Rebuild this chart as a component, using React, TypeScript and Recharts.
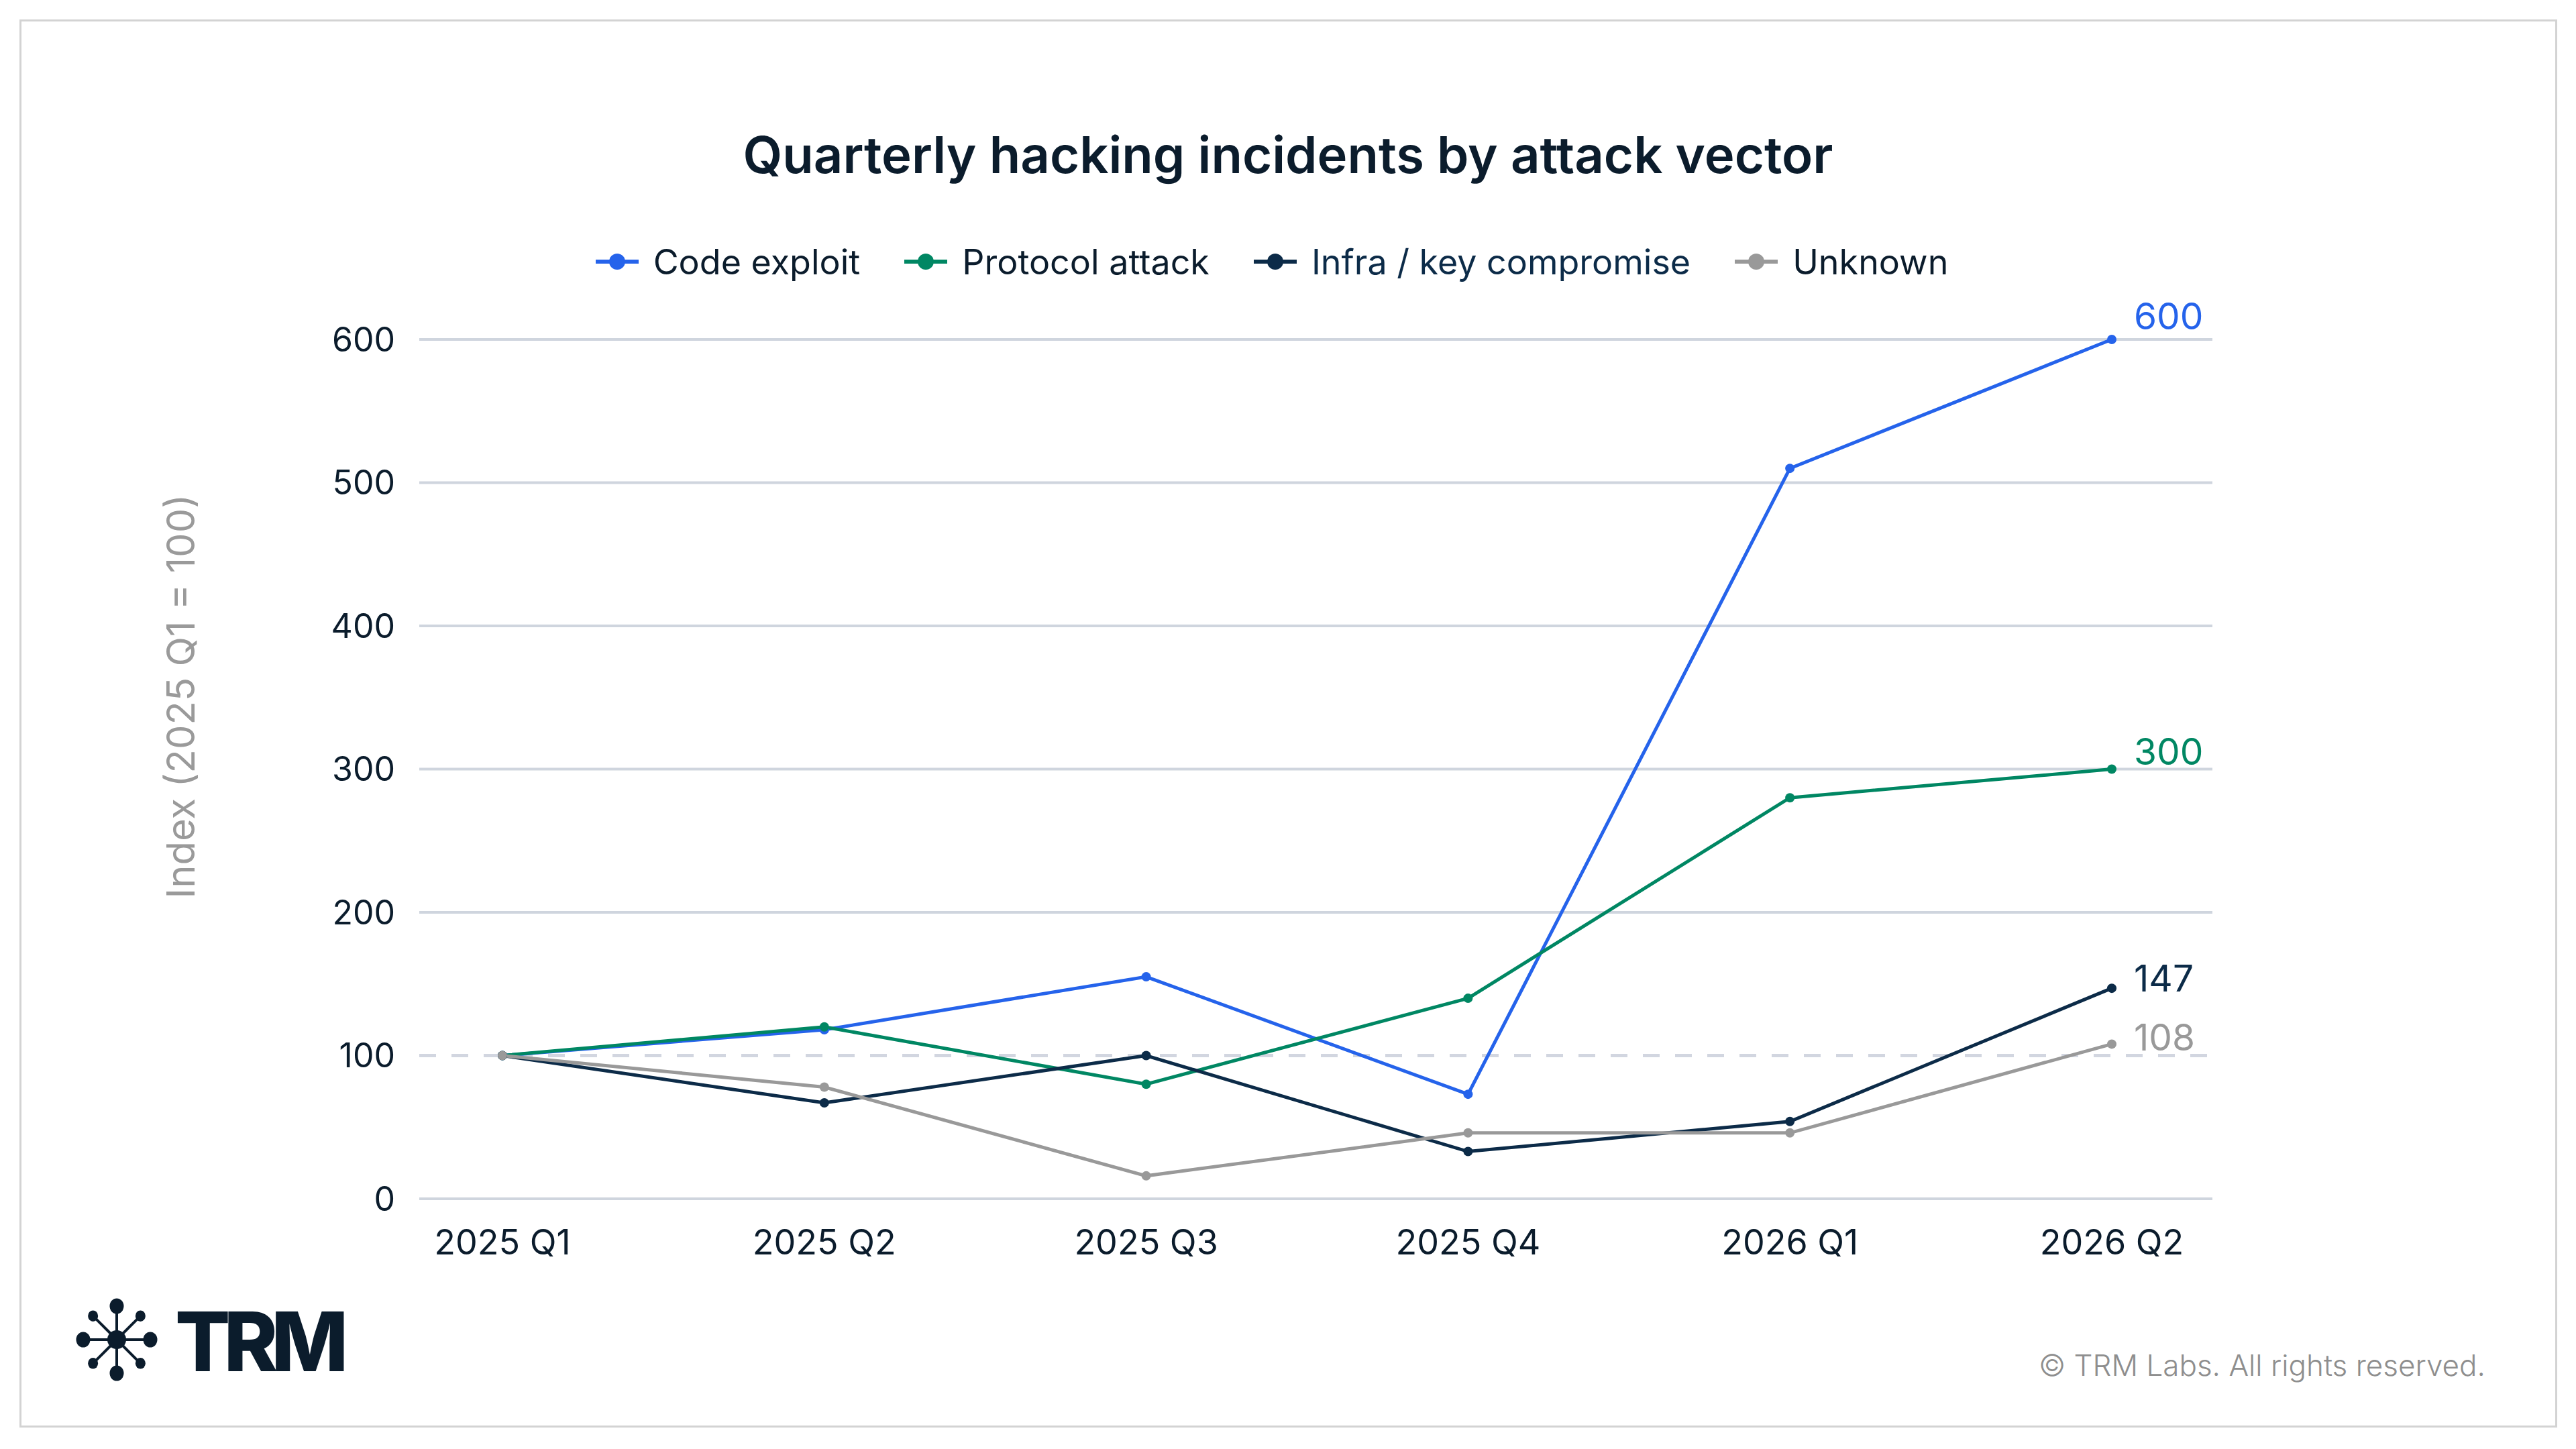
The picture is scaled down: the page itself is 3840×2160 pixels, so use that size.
import React from 'react';
import { LabelList, Legend, Line, LineChart, ReferenceLine, XAxis, YAxis } from 'recharts';

const quarters = ['2025 Q1', '2025 Q2', '2025 Q3', '2025 Q4', '2026 Q1', '2026 Q2'];
const codeExploit = [100, 118, 155, 73, 510, 600];
const protocolAttack = [100, 120, 80, 140, 280, 300];
const infraKeyCompromise = [100, 67, 100, 33, 54, 147];
const unknownVector = [100, 78, 16, 46, 46, 108];
const yTicks = [0, 100, 200, 300, 400, 500, 600];
const gridValues = [0, 200, 300, 400, 500, 600];
const baseValue = 100;

const FONT = 'Inter, "Noto Sans", sans-serif';
const TEXT = '#0b1c2c';

const series = [
  { key: 'code', name: 'Code exploit', color: '#2563EB', values: codeExploit, lift: 35 },
  { key: 'protocol', name: 'Protocol attack', color: '#008763', values: protocolAttack, lift: 27 },
  { key: 'infra', name: 'Infra / key compromise', color: '#0c2b48', values: infraKeyCompromise, lift: 15 },
  { key: 'unknown', name: 'Unknown', color: '#999999', values: unknownVector, lift: 10 },
];

const data = quarters.map((quarter, i) => {
  const row: Record<string, string | number> = { quarter };
  series.forEach((s) => {
    row[s.key] = s.values[i];
  });
  return row;
});

const endLabel = (color: string, lift: number) => (props: any) => {
  const { x, y, value, index } = props;
  if (index !== quarters.length - 1) return null;
  return (
    <text x={x + 33} y={y - lift} fill={color} fontSize={55} fontFamily={FONT} dominantBaseline="central">
      {value}
    </text>
  );
};

const renderLegend = () => (
  <div style={{ display: 'flex', justifyContent: 'center', alignItems: 'center', height: 60, gap: 66, fontFamily: FONT }}>
    {series.map((s) => (
      <div key={s.key} style={{ display: 'flex', alignItems: 'center' }}>
        <svg width={64} height={30}>
          <line x1={0} y1={15} x2={64} y2={15} stroke={s.color} strokeWidth={6} />
          <circle cx={32} cy={15} r={12} fill={s.color} />
        </svg>
        <span style={{ marginLeft: 22, fontSize: 52, color: s.key === 'infra' ? '#0c2b48' : TEXT }}>{s.name}</span>
      </div>
    ))}
  </div>
);

const yLabel = () => (
  <text
    x={269}
    y={1038}
    transform="rotate(-90 269 1038)"
    textAnchor="middle"
    dominantBaseline="central"
    fill="#9a9a9a"
    fontSize={58}
    fontFamily={FONT}
  >
    Index (2025 Q1 = 100)
  </text>
);

const TrmLogo: React.FC = () => {
  const cx = 74;
  const cy = 97;
  const arms = [
    { a: 0, r: 10.5 },
    { a: 90, r: 10.5 },
    { a: 180, r: 10.5 },
    { a: 270, r: 10.5 },
    { a: 45, r: 7.5 },
    { a: 135, r: 7.5 },
    { a: 225, r: 7.5 },
    { a: 315, r: 7.5 },
  ];
  return (
    <svg width={540} height={200} style={{ position: 'absolute', left: 100, top: 1900 }}>
      {arms.map(({ a, r }) => {
        const rad = (a * Math.PI) / 180;
        const px = cx + 50 * Math.cos(rad);
        const py = cy + 50 * Math.sin(rad);
        return (
          <g key={a}>
            <line x1={cx} y1={cy} x2={px} y2={py} stroke={TEXT} strokeWidth={4} />
            <ellipse cx={px} cy={py} rx={r} ry={r * 1.1} fill={TEXT} />
          </g>
        );
      })}
      <circle cx={cx} cy={cy} r={14} fill={TEXT} />
      <text x={161} y={144} fontSize={122} fontWeight={800} letterSpacing={-10} fill={TEXT} fontFamily={FONT}>
        TRM
      </text>
    </svg>
  );
};

const App: React.FC = () => (
  <div style={{ position: 'absolute', left: 0, top: 0, width: 3840, height: 2160, background: '#fff', fontFamily: FONT }}>
    <div
      style={{
        position: 'absolute',
        left: 29,
        top: 29,
        width: 3777,
        height: 2093,
        border: '3px solid #d3d3d3',
      }}
    />
    <div
      style={{
        position: 'absolute',
        left: 0,
        top: 180,
        width: 3840,
        height: 100,
        lineHeight: '100px',
        textAlign: 'center',
        fontSize: 76,
        fontWeight: 600,
        color: TEXT,
      }}
    >
      Quarterly hacking incidents by attack vector
    </div>
    <div style={{ position: 'absolute', left: 0, top: 0 }}>
      <LineChart width={3840} height={2160} data={data} margin={{ top: 446, right: 542, bottom: 293, left: 525 }}>
        <XAxis
          dataKey="quarter"
          axisLine={false}
          tickLine={false}
          tickSize={0}
          tickMargin={46}
          height={80}
          padding={{ left: 124, right: 150 }}
          tick={{ fill: TEXT, fontSize: 52, fontFamily: FONT }}
        />
        <YAxis
          domain={[0, 600]}
          ticks={yTicks}
          axisLine={false}
          tickLine={false}
          tickSize={0}
          tickMargin={36}
          width={100}
          tick={{ fill: TEXT, fontSize: 50, fontFamily: FONT }}
          label={yLabel}
        />
        <Legend
          verticalAlign="top"
          content={renderLegend}
          wrapperStyle={{ top: 360, left: -24, width: 3840, height: 60 }}
        />
        {gridValues.map((v) => (
          <ReferenceLine key={v} y={v} stroke="#cfd5de" strokeWidth={4} />
        ))}
        <ReferenceLine y={baseValue} stroke="#d2d6e0" strokeWidth={5} strokeDasharray="25 23" />
        {series.map((s) => (
          <Line
            key={s.key}
            dataKey={s.key}
            name={s.name}
            type="linear"
            stroke={s.color}
            strokeWidth={5}
            dot={{ r: 7, fill: s.color, stroke: s.color, strokeWidth: 0 }}
            activeDot={false}
            isAnimationActive={false}
          >
            <LabelList dataKey={s.key} content={endLabel(s.color, s.lift)} />
          </Line>
        ))}
      </LineChart>
    </div>
    <TrmLogo />
    <div
      style={{
        position: 'absolute',
        right: 135,
        top: 2008,
        height: 54,
        lineHeight: '54px',
        fontSize: 44,
        fontWeight: 300,
        color: '#8e8e8e',
        whiteSpace: 'nowrap',
      }}
    >
      © TRM Labs. All rights reserved.
    </div>
  </div>
);

export default App;
